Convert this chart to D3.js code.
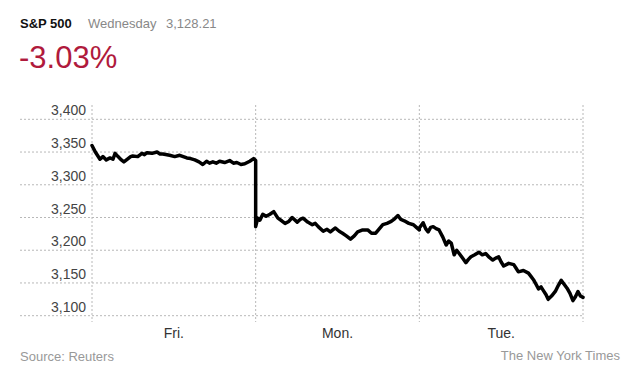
<!DOCTYPE html>
<html>
<head>
<meta charset="utf-8">
<script src="https://cdn.jsdelivr.net/npm/d3@7"></script>
<style>
  body { margin: 0; background: #fff; }
  text { font-family: "Liberation Sans", Arial, sans-serif; }
</style>
</head>
<body>
<div id="vis"></div>
<script>
const VIS_CONTAINER_ID = "vis";
const WIDTH = 636;
const HEIGHT = 385;

// ############
// data
// ############
const days = ["Fri.", "Mon.", "Tue."];
const yTicks = [3100, 3150, 3200, 3250, 3300, 3350, 3400];

// minutes after the open, index level
const friMinutes = [0, 8, 19, 26, 34, 43, 50, 55, 62, 70, 76, 86, 92, 97, 109, 119, 125, 131, 143, 155, 162, 169, 185, 197, 209, 226, 235, 245, 255, 264, 273, 280, 288, 296, 304, 316, 328, 337, 345, 355, 364, 376, 385, 390];
const friValues = [3360, 3350, 3339, 3343, 3338, 3341, 3339, 3348, 3343, 3338, 3335, 3340, 3343, 3344, 3343, 3348, 3346, 3349, 3348, 3350, 3347, 3347, 3345, 3343, 3345, 3341, 3340, 3338, 3335, 3331, 3336, 3333, 3335, 3333, 3336, 3334, 3337, 3333, 3334, 3331, 3332, 3336, 3340, 3337];

const monMinutes = [0, 5, 10, 17, 25, 34, 43, 53, 62, 70, 79, 87, 99, 106, 113, 124, 135, 142, 149, 161, 170, 178, 190, 199, 207, 216, 226, 235, 243, 255, 267, 276, 286, 295, 303, 313, 323, 331, 339, 346, 354, 365, 376, 383, 390];
const monValues = [3236, 3249, 3246, 3255, 3252, 3255, 3259, 3249, 3245, 3241, 3244, 3250, 3243, 3247, 3249, 3243, 3239, 3241, 3236, 3229, 3232, 3228, 3234, 3229, 3226, 3222, 3217, 3222, 3228, 3231, 3231, 3226, 3226, 3233, 3239, 3241, 3244, 3248, 3253, 3247, 3245, 3241, 3239, 3235, 3231];

const tueMinutes = [0, 9, 15, 21, 27, 33, 40, 47, 56, 64, 70, 76, 83, 89, 95, 103, 111, 117, 123, 132, 142, 150, 158, 167, 175, 182, 189, 195, 201, 213, 225, 231, 236, 248, 260, 266, 272, 278, 284, 290, 296, 302, 307, 315, 324, 331, 338, 345, 352, 359, 366, 372, 378, 384, 390];
const tueValues = [3234, 3242, 3233, 3228, 3235, 3236, 3233, 3231, 3220, 3208, 3214, 3211, 3193, 3200, 3195, 3188, 3181, 3186, 3190, 3193, 3197, 3193, 3195, 3189, 3185, 3188, 3190, 3182, 3176, 3180, 3178, 3172, 3167, 3169, 3165, 3160, 3155, 3148, 3141, 3144, 3138, 3132, 3125, 3130, 3137, 3146, 3154, 3148, 3142, 3134, 3123, 3129, 3137, 3130, 3128];

const sessions = [
  { minutes: friMinutes, values: friValues },
  { minutes: monMinutes, values: monValues },
  { minutes: tueMinutes, values: tueValues },
];
const SESSION_LENGTH = 390;

// ############
// draw()
// ############
const svg = d3
  .select("#" + VIS_CONTAINER_ID)
  .append("svg")
  .attr("width", WIDTH)
  .attr("height", HEIGHT);

const x = d3.scaleLinear().domain([0, days.length]).range([92, 583]);
const y = d3.scaleLinear().domain([3100, 3400]).range([315.7, 119.3]);

// header
const header = svg.append("text").attr("x", 20).attr("y", 28).attr("font-size", 13);
header.append("tspan").attr("font-weight", "bold").attr("fill", "#111").text("S&P 500");
header.append("tspan").attr("x", 88).attr("fill", "#888").text("Wednesday");
header.append("tspan").attr("x", 166).attr("fill", "#888").text("3,128.21");

svg
  .append("text")
  .attr("x", 19)
  .attr("y", 68)
  .attr("font-size", 31)
  .attr("fill", "#b01a3c")
  .text("-3.03%");

// horizontal gridlines + labels
const grid = svg.append("g");
grid
  .selectAll("line.h")
  .data(yTicks)
  .join("line")
  .attr("class", "h")
  .attr("x1", 20)
  .attr("x2", x(days.length))
  .attr("y1", (d) => y(d))
  .attr("y2", (d) => y(d))
  .attr("stroke", "#b8b8b8")
  .attr("stroke-width", 1)
  .attr("stroke-dasharray", "2,2");

// vertical day dividers
grid
  .selectAll("line.v")
  .data(d3.range(days.length + 1))
  .join("line")
  .attr("class", "v")
  .attr("x1", (d) => x(d))
  .attr("x2", (d) => x(d))
  .attr("y1", 105)
  .attr("y2", 322)
  .attr("stroke", "#b8b8b8")
  .attr("stroke-width", 1)
  .attr("stroke-dasharray", "2,2");

svg
  .append("g")
  .selectAll("text")
  .data(yTicks)
  .join("text")
  .attr("x", 86)
  .attr("y", (d) => y(d) - 4)
  .attr("text-anchor", "end")
  .attr("font-size", 14)
  .attr("fill", "#444")
  .text((d) => d3.format(",")(d));

// day labels
svg
  .append("g")
  .selectAll("text")
  .data(days)
  .join("text")
  .attr("x", (d, i) => x(i + 0.5))
  .attr("y", 338)
  .attr("text-anchor", "middle")
  .attr("font-size", 14)
  .attr("fill", "#333")
  .text((d) => d);

// index line, all sessions joined
const points = [];
sessions.forEach((s, i) => {
  s.minutes.forEach((m, j) => {
    points.push([i + m / SESSION_LENGTH, s.values[j]]);
  });
});

const line = d3
  .line()
  .x((d) => x(d[0]))
  .y((d) => y(d[1]));

svg
  .append("path")
  .datum(points)
  .attr("d", line)
  .attr("fill", "none")
  .attr("stroke", "#000")
  .attr("stroke-width", 3.5)
  .attr("stroke-linejoin", "round")
  .attr("stroke-linecap", "round");

// footer
svg
  .append("text")
  .attr("x", 20)
  .attr("y", 361)
  .attr("font-size", 13)
  .attr("fill", "#999")
  .text("Source: Reuters");

svg
  .append("text")
  .attr("x", 620)
  .attr("y", 360)
  .attr("text-anchor", "end")
  .attr("font-size", 13)
  .attr("fill", "#999")
  .text("The New York Times");
</script>
</body>
</html>
